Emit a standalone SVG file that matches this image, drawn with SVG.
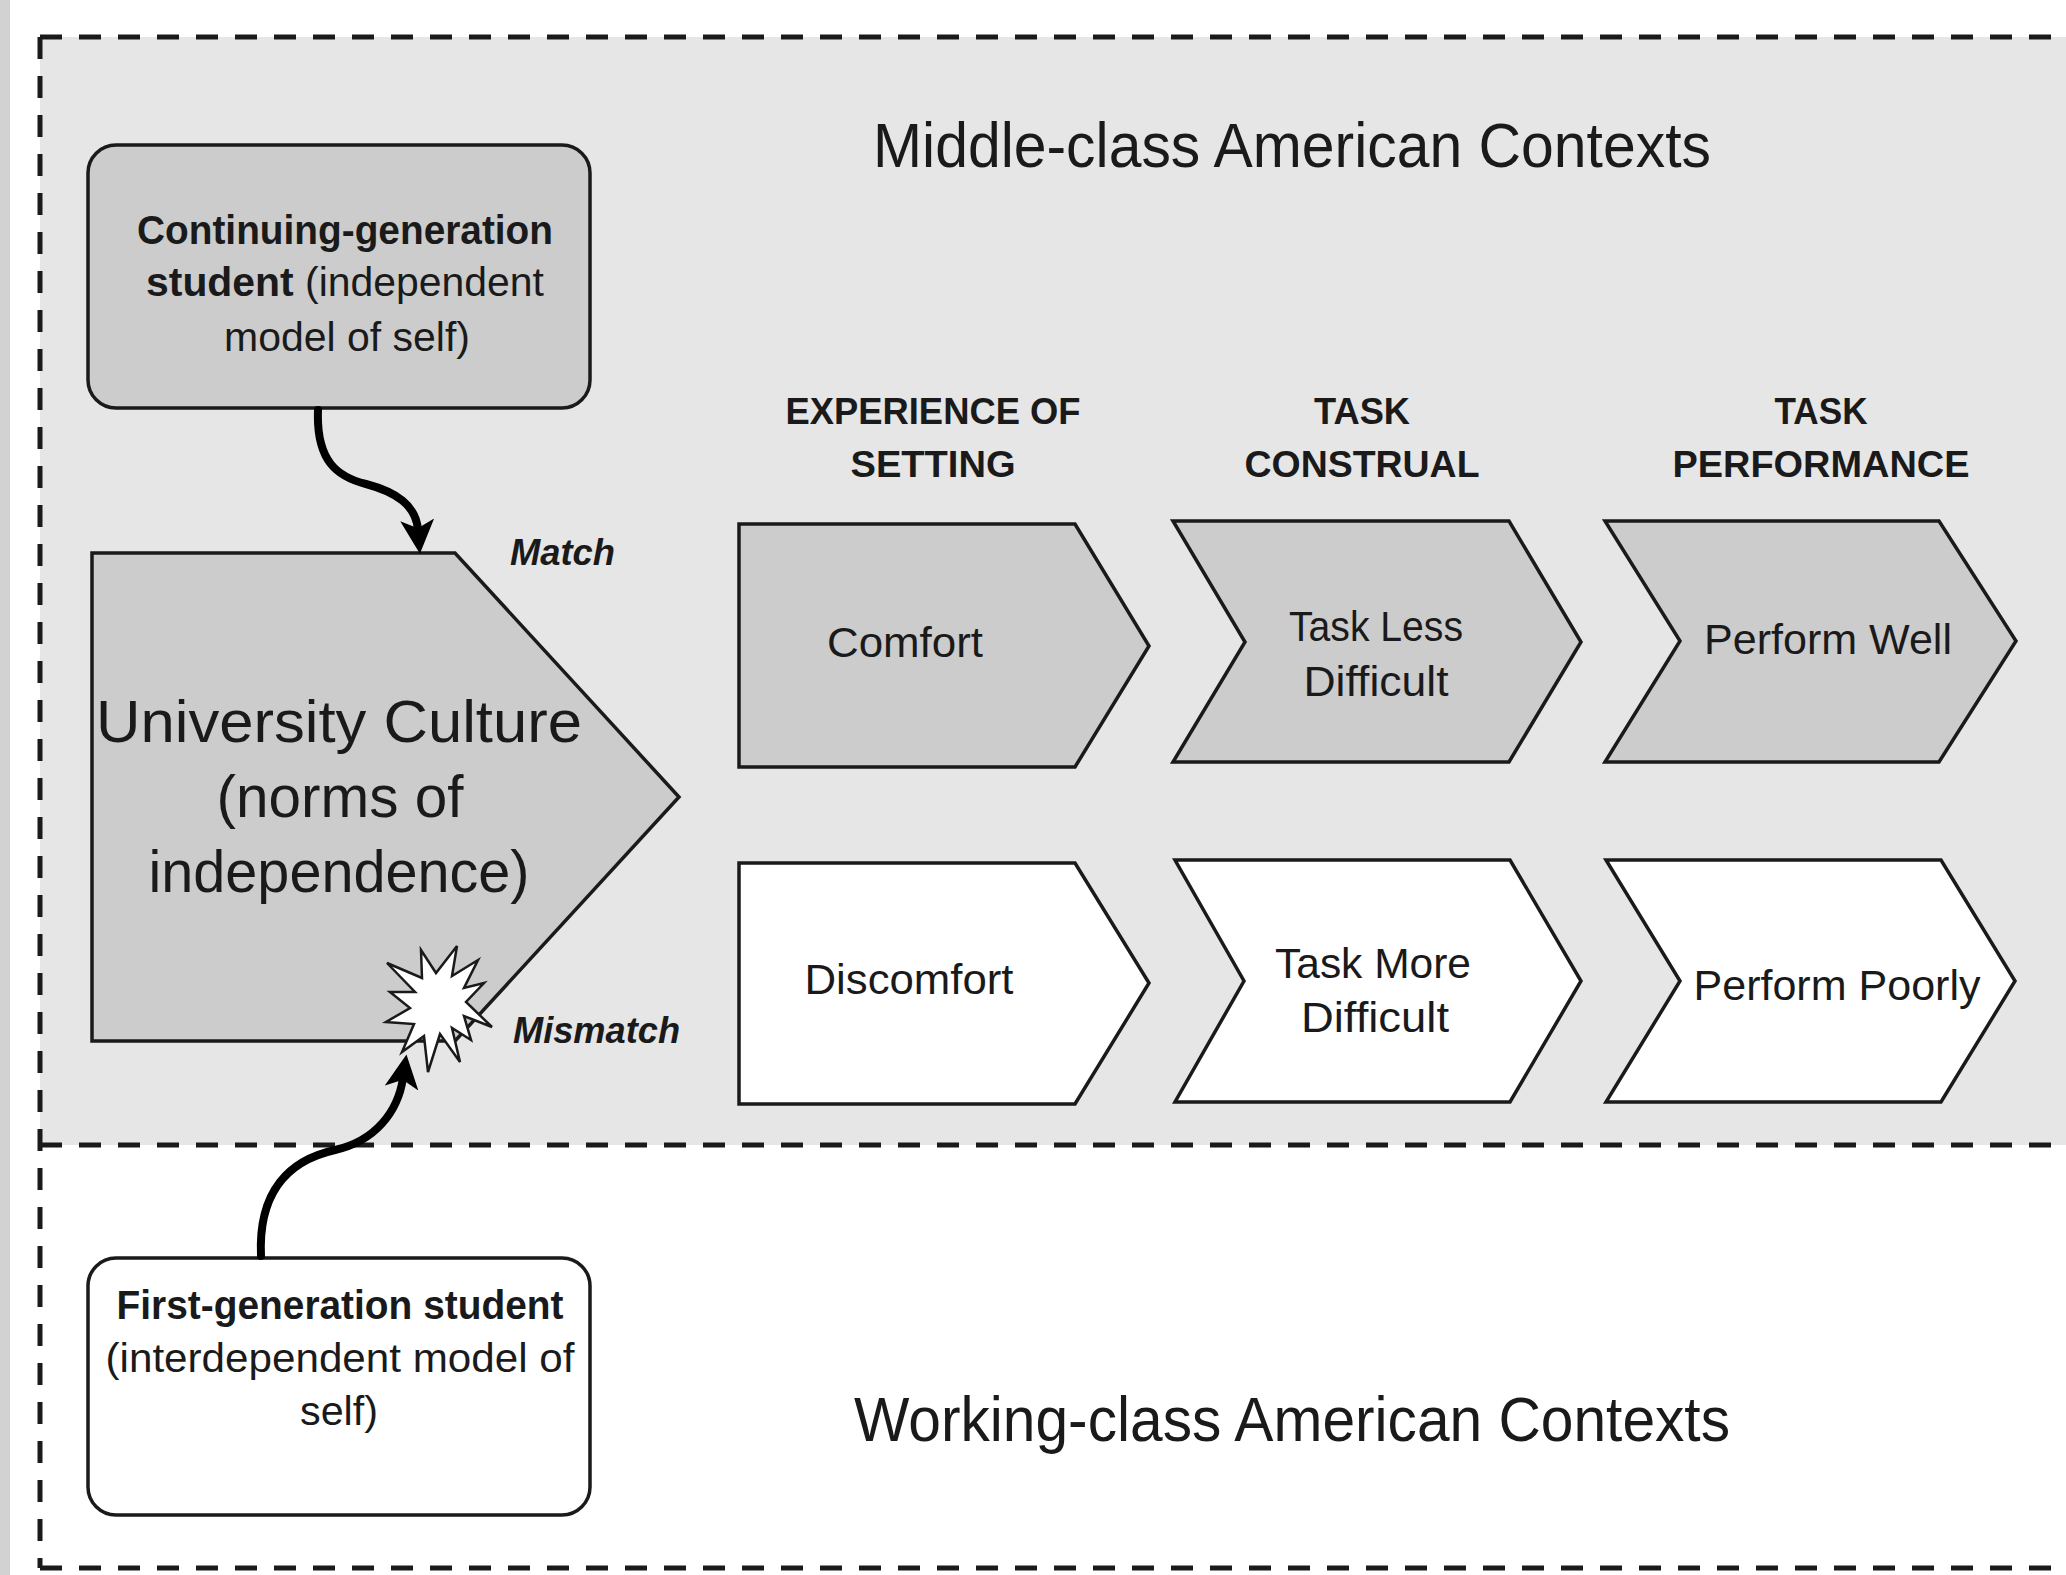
<svg xmlns="http://www.w3.org/2000/svg" width="2066" height="1575" viewBox="0 0 2066 1575">
<defs>
<style>
.t{font-family:"Liberation Sans",Arial,sans-serif;fill:#1a1a1a}
.title{font-size:63px}
.hdr{font-size:36px;font-weight:bold}
.lbl{font-size:43px}
.box{font-size:40px}
.big{font-size:60px}
.tag{font-size:36px;font-weight:bold;font-style:italic}
.dash{fill:none;stroke:#1a1a1a;stroke-width:5;stroke-dasharray:22 17}
.shape{stroke:#1a1a1a;stroke-width:3.5;stroke-linejoin:miter}
.gray{fill:#cccccc}
.white{fill:#ffffff}
.conn{fill:none;stroke:#000;stroke-width:8;stroke-linecap:round}
</style>
<marker id="ah" viewBox="0 0 10 10" refX="3" refY="5" markerWidth="34" markerHeight="34" markerUnits="userSpaceOnUse" orient="auto">
<path d="M0,0 L10,5 L0,10 L2.5,5 z" fill="#000"/>
</marker>
</defs>

<rect x="0" y="0" width="2066" height="1575" fill="#ffffff"/>
<rect x="0" y="0" width="10" height="1575" fill="#d2d2d2"/>

<g id="regions">
<rect x="40" y="37" width="2026" height="1108" fill="#e6e6e6"/>
<path class="dash" d="M40,37 H2066"/>
<path class="dash" d="M40,1145 H2066"/>
<path class="dash" d="M40,1568 H2066"/>
<path class="dash" d="M40,37 V1568"/>
<text class="t title" x="1292" y="167" text-anchor="middle" textLength="838" lengthAdjust="spacingAndGlyphs">Middle-class American Contexts</text>
<text class="t title" x="1292" y="1441" text-anchor="middle" textLength="876" lengthAdjust="spacingAndGlyphs">Working-class American Contexts</text>
</g>

<g id="headers">
<text class="t hdr" x="933" y="424" text-anchor="middle" textLength="295" lengthAdjust="spacingAndGlyphs">EXPERIENCE OF</text>
<text class="t hdr" x="933" y="477" text-anchor="middle" textLength="165" lengthAdjust="spacingAndGlyphs">SETTING</text>
<text class="t hdr" x="1362" y="424" text-anchor="middle" textLength="96" lengthAdjust="spacingAndGlyphs">TASK</text>
<text class="t hdr" x="1362" y="477" text-anchor="middle" textLength="235" lengthAdjust="spacingAndGlyphs">CONSTRUAL</text>
<text class="t hdr" x="1821" y="424" text-anchor="middle" textLength="93" lengthAdjust="spacingAndGlyphs">TASK</text>
<text class="t hdr" x="1821" y="477" text-anchor="middle" textLength="297" lengthAdjust="spacingAndGlyphs">PERFORMANCE</text>
</g>

<g id="continuing-student">
<rect class="shape gray" x="88" y="145" width="502" height="263" rx="28" ry="28" stroke-width="3"/>
<text class="t box" x="345" y="244" text-anchor="middle" font-weight="bold" textLength="416" lengthAdjust="spacingAndGlyphs">Continuing-generation</text>
<text class="t box" x="345" y="296" text-anchor="middle" textLength="398" lengthAdjust="spacingAndGlyphs"><tspan font-weight="bold">student</tspan> (independent</text>
<text class="t box" x="347" y="351" text-anchor="middle" textLength="246" lengthAdjust="spacingAndGlyphs">model of self)</text>
</g>

<g id="first-gen-student">
<rect class="shape white" x="88" y="1258" width="502" height="257" rx="28" ry="28" stroke-width="3"/>
<text class="t box" x="340" y="1319" text-anchor="middle" font-weight="bold" textLength="447" lengthAdjust="spacingAndGlyphs">First-generation student</text>
<text class="t box" x="340" y="1372" text-anchor="middle" textLength="469" lengthAdjust="spacingAndGlyphs">(interdependent model of</text>
<text class="t box" x="339" y="1425" text-anchor="middle" textLength="78" lengthAdjust="spacingAndGlyphs">self)</text>
</g>

<g id="university-culture">
<polygon class="shape gray" points="92,553 455,553 679,797 455,1041 92,1041"/>
<text class="t big" x="339" y="742" text-anchor="middle" textLength="486" lengthAdjust="spacingAndGlyphs">University Culture</text>
<text class="t big" x="340" y="817" text-anchor="middle" textLength="247" lengthAdjust="spacingAndGlyphs">(norms of</text>
<text class="t big" x="339" y="892" text-anchor="middle" textLength="381" lengthAdjust="spacingAndGlyphs">independence)</text>
</g>

<g id="starburst">
<polygon fill="#ffffff" stroke="#1a1a1a" stroke-width="2.5" stroke-linejoin="miter" points="492,1027 464,1016 471,1040 452,1028 460,1062 440,1034 428,1072 424,1036 402,1052 414,1024 386,1022 410,1008 390,992 415,992 387,963 422,978 421,950 436,973 457,946 452,976 478,960 464,988 484,983 466,1002"/>
</g>

<g id="labels">
<text class="t tag" x="510" y="565" textLength="105" lengthAdjust="spacingAndGlyphs">Match</text>
<text class="t tag" x="513" y="1043" textLength="167" lengthAdjust="spacingAndGlyphs">Mismatch</text>
</g>

<g id="comfort">
<polygon class="shape gray" points="739,524 1075,524 1149,646 1075,767 739,767"/>
<text class="t lbl" x="905" y="657" text-anchor="middle" textLength="156" lengthAdjust="spacingAndGlyphs">Comfort</text>
</g>
<g id="task-less-difficult">
<polygon class="shape gray" points="1173,521 1509,521 1581,642 1509,762 1173,762 1245,642"/>
<text class="t lbl" x="1376" y="641" text-anchor="middle" textLength="174" lengthAdjust="spacingAndGlyphs">Task Less</text>
<text class="t lbl" x="1376" y="696" text-anchor="middle" textLength="145" lengthAdjust="spacingAndGlyphs">Difficult</text>
</g>
<g id="perform-well">
<polygon class="shape gray" points="1605,521 1939,521 2016,641 1939,762 1605,762 1680,641"/>
<text class="t lbl" x="1828" y="654" text-anchor="middle" textLength="248" lengthAdjust="spacingAndGlyphs">Perform Well</text>
</g>
<g id="discomfort">
<polygon class="shape white" points="739,863 1075,863 1149,983 1075,1104 739,1104"/>
<text class="t lbl" x="909" y="994" text-anchor="middle" textLength="209" lengthAdjust="spacingAndGlyphs">Discomfort</text>
</g>
<g id="task-more-difficult">
<polygon class="shape white" points="1175,860 1510,860 1581,981 1510,1102 1175,1102 1244,981"/>
<text class="t lbl" x="1373" y="978" text-anchor="middle" textLength="196" lengthAdjust="spacingAndGlyphs">Task More</text>
<text class="t lbl" x="1375" y="1032" text-anchor="middle" textLength="148" lengthAdjust="spacingAndGlyphs">Difficult</text>
</g>
<g id="perform-poorly">
<polygon class="shape white" points="1606,860 1941,860 2015,981 1941,1102 1606,1102 1680,981"/>
<text class="t lbl" x="1837" y="1000" text-anchor="middle" textLength="287" lengthAdjust="spacingAndGlyphs">Perform Poorly</text>
</g>

<g id="connectors">
<path class="conn" marker-end="url(#ah)" d="M318,410 C316,462 338,477 366,484 C396,492 416,505 418,530"/>
<path class="conn" marker-end="url(#ah)" d="M261,1256 C258,1190 290,1160 335,1150 C375,1141 398,1112 403,1078"/>
</g>
</svg>
